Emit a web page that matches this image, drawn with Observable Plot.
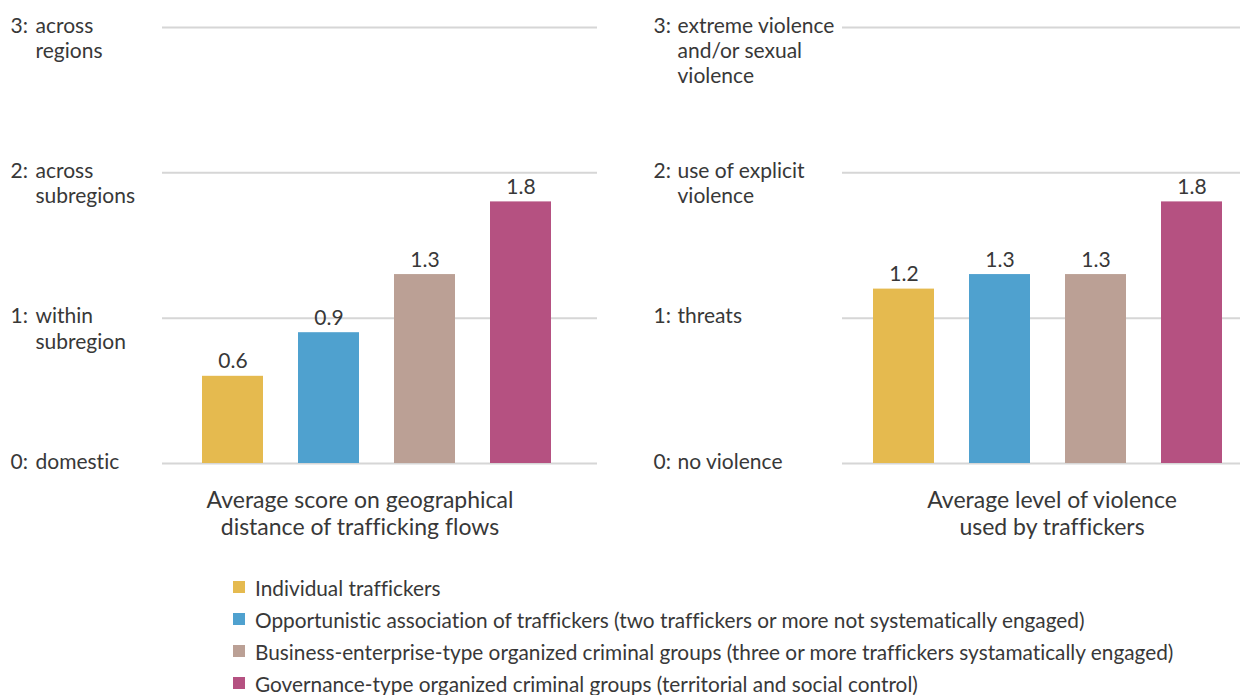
<!DOCTYPE html>
<html>
<head>
<meta charset="utf-8">
<script src="https://cdn.jsdelivr.net/npm/d3@7"></script>
<script src="https://cdn.jsdelivr.net/npm/@observablehq/plot@0.6"></script>
<style>
  html, body { margin: 0; padding: 0; background: #fff; }
  body { font-family: Lato, sans-serif; color: #383838; font-variant-ligatures: none; }
  svg text { font-variant-ligatures: none; }
  #wrap { position: relative; width: 1240px; height: 695px; overflow: hidden; }
  .panel { position: absolute; top: 0; }
  .ptitle { position: absolute; text-align: center; font-size: 23px; line-height: 27px; white-space: pre; transform: translateX(-50%); }
  #legend { position: absolute; left: 233px; top: 571px; font-size: 20.8px; }
  .li { display: flex; align-items: center; height: 32px; white-space: nowrap; }
  .sw { width: 12px; height: 12px; margin-right: 10px; flex: none; }
</style>
</head>
<body>
<div id="wrap">
  <div id="left" class="panel" style="left:0"></div>
  <div id="right" class="panel" style="left:620px"></div>
  <div class="ptitle" id="t1" style="left:360px; top:486px"></div>
  <div class="ptitle" id="t2" style="left:1052px; top:486px"></div>
  <div id="legend"></div>
</div>
<script>
const groups = [
  "Individual traffickers",
  "Opportunistic association of traffickers (two traffickers or more not systematically engaged)",
  "Business-enterprise-type organized criminal groups (three or more traffickers systamatically engaged)",
  "Governance-type organized criminal groups (territorial and social control)"
];
const colors = ["#e5ba4f", "#4fa1cf", "#bba095", "#b55181"];
const distanceValues = [0.6, 0.9, 1.3, 1.8];
const violenceValues = [1.2, 1.3, 1.3, 1.8];
const tickValues = [0, 1, 2, 3];
const distanceTickLabels = ["domestic", "within\nsubregion", "across\nsubregions", "across\nregions"];
const violenceTickLabels = ["no violence", "threats", "use of explicit\nviolence", "extreme violence\nand/or sexual\nviolence"];
const titleLeft = "Average score on geographical\ndistance of trafficking flows";
const titleRight = "Average level of violence\nused by traffickers";

const font = "Lato, sans-serif";
const fs = 21;
const lh = 1.21;
const ink = "#383838";

function panel(values, tickLabels, opts) {
  const data = groups.map((g, i) => ({group: g, value: values[i]}));
  const ticks = tickValues.map((v, i) => ({v, prefix: v + ":", label: tickLabels[i]}));
  return Plot.plot({
    width: 620,
    height: 480,
    marginTop: 27,
    marginBottom: 17,
    marginLeft: opts.marginLeft,
    marginRight: opts.marginRight,
    style: {fontFamily: font, fontSize: fs + "px", color: ink, background: "transparent", overflow: "visible"},
    x: {domain: groups, range: opts.xRange, paddingInner: 0.365, paddingOuter: 0, axis: null},
    y: {domain: [0, 3], axis: null},
    color: {domain: groups, range: colors},
    marks: [
      Plot.ruleY(tickValues, {stroke: "#d6d6d6", strokeWidth: 2}),
      Plot.barY(data, {x: "group", y: "value", fill: "group"}),
      Plot.text(data, {x: "group", y: "value", text: d => d.value.toFixed(1), dy: -8, lineAnchor: "bottom", fill: ink, fontSize: fs}),
      Plot.text(ticks, {y: "v", text: "prefix", frameAnchor: "left", dx: opts.prefixDx, textAnchor: "start", lineAnchor: "top", dy: -13, lineHeight: lh, fill: ink, fontSize: fs}),
      Plot.text(ticks, {y: "v", text: "label", frameAnchor: "left", dx: opts.labelDx, textAnchor: "start", lineAnchor: "top", dy: -13, lineHeight: lh, fill: ink, fontSize: fs})
    ]
  });
}

document.getElementById("left").appendChild(panel(distanceValues, distanceTickLabels, {
  marginLeft: 162, marginRight: 23, xRange: [202, 551], prefixDx: -152, labelDx: -127
}));
document.getElementById("right").appendChild(panel(violenceValues, violenceTickLabels, {
  marginLeft: 222, marginRight: 0, xRange: [251, 603], prefixDx: -189, labelDx: -165
}));

document.getElementById("t1").textContent = titleLeft;
document.getElementById("t2").textContent = titleRight;

const legend = document.getElementById("legend");
groups.forEach((g, i) => {
  const row = document.createElement("div");
  row.className = "li";
  const sw = document.createElement("span");
  sw.className = "sw";
  sw.style.background = colors[i];
  const tx = document.createElement("span");
  tx.textContent = g;
  row.appendChild(sw);
  row.appendChild(tx);
  legend.appendChild(row);
});
</script>
</body>
</html>
